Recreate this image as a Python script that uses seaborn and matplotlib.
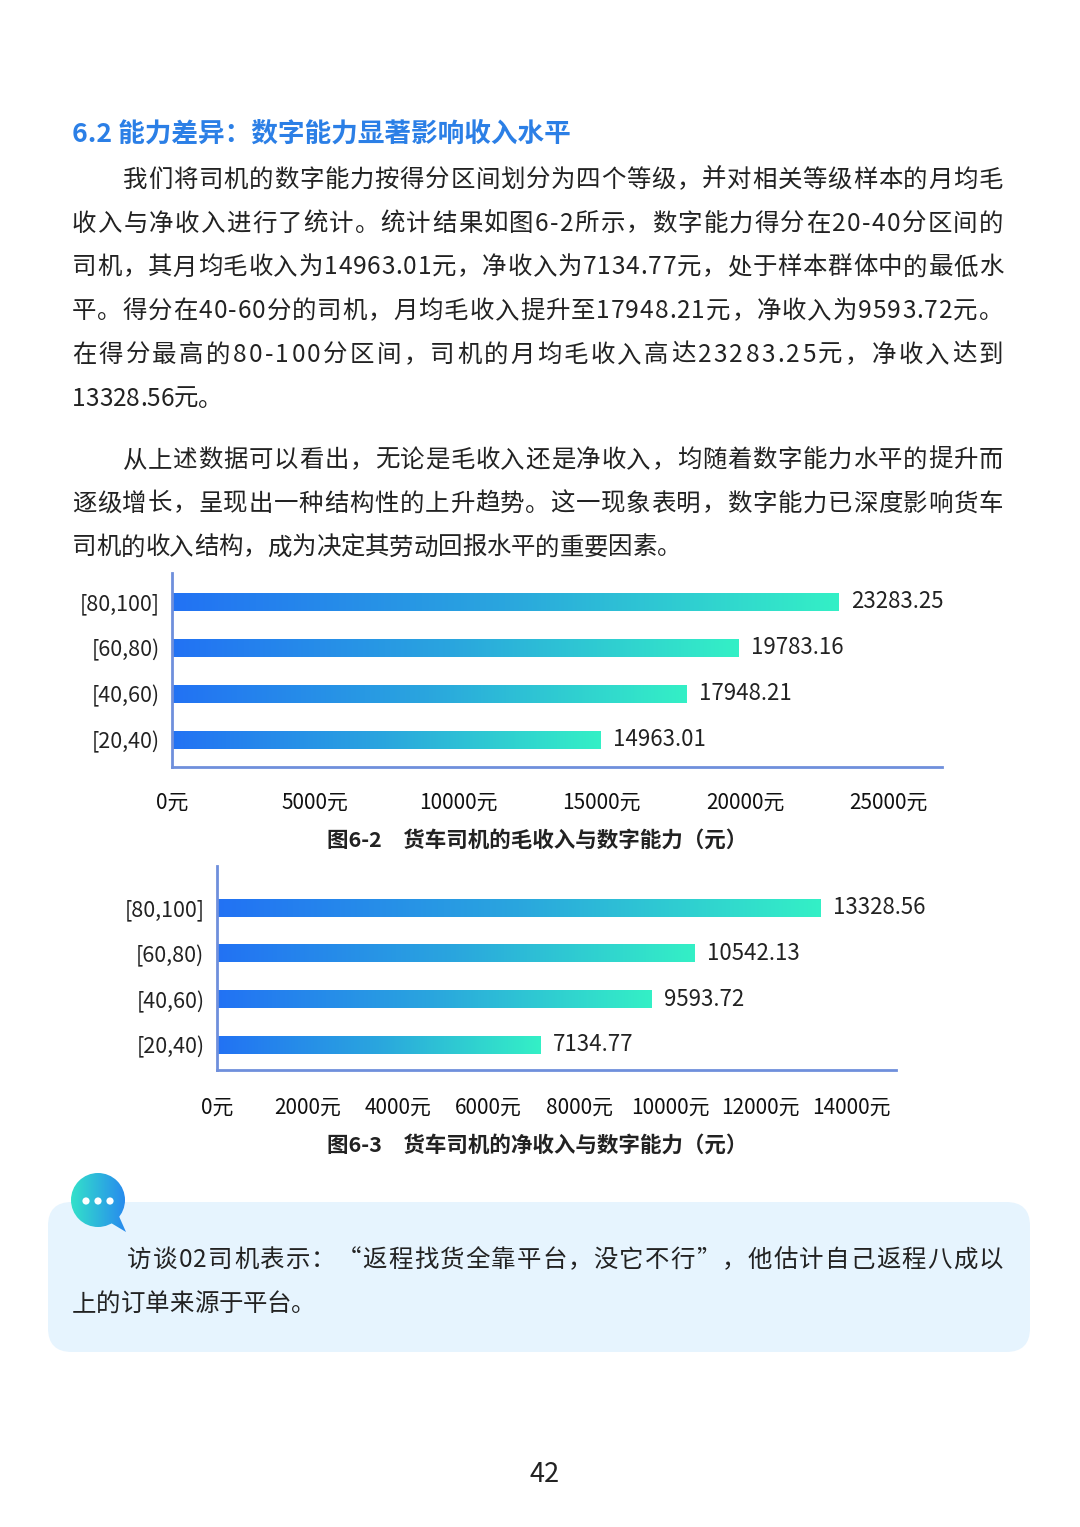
import matplotlib.pyplot as plt
import seaborn as sns
import numpy as np
import pandas as pd
from matplotlib.colors import LinearSegmentedColormap
from matplotlib.patches import FancyBboxPatch, Circle, Polygon

# ---- data ----
levels = ['[80,100]', '[60,80)', '[40,60)', '[20,40)']
gross_income = [23283.25, 19783.16, 17948.21, 14963.01]
net_income = [13328.56, 10542.13, 9593.72, 7134.77]
gross_ticks = [0, 5000, 10000, 15000, 20000, 25000]
gross_tick_labels = ['0元', '5000元', '10000元', '15000元', '20000元', '25000元']
net_ticks = [0, 2000, 4000, 6000, 8000, 10000, 12000, 14000]
net_tick_labels = ['0元', '2000元', '4000元', '6000元', '8000元', '10000元', '12000元', '14000元']

heading = '6.2 能力差异：数字能力显著影响收入水平'
para1 = [
    '我们将司机的数字能力按得分区间划分为四个等级，并对相关等级样本的月均毛',
    '收入与净收入进行了统计。统计结果如图6-2所示，数字能力得分在20-40分区间的',
    '司机，其月均毛收入为14963.01元，净收入为7134.77元，处于样本群体中的最低水',
    '平。得分在40-60分的司机，月均毛收入提升至17948.21元，净收入为9593.72元。',
    '在得分最高的80-100分区间，司机的月均毛收入高达23283.25元，净收入达到',
    '13328.56元。',
]
para2 = [
    '从上述数据可以看出，无论是毛收入还是净收入，均随着数字能力水平的提升而',
    '逐级增长，呈现出一种结构性的上升趋势。这一现象表明，数字能力已深度影响货车',
    '司机的收入结构，成为决定其劳动回报水平的重要因素。',
]
caption1 = '图6-2　货车司机的毛收入与数字能力（元）'
caption2 = '图6-3　货车司机的净收入与数字能力（元）'
quote = [
    '访谈02司机表示：“返程找货全靠平台，没它不行”，他估计自己返程八成以',
    '上的订单来源于平台。',
]
page_no = '42'

W, H = 1080, 1527
sns.set_theme(style='white')
plt.rcParams['font.family'] = ['Noto Sans CJK SC', 'DejaVu Sans']
fig = plt.figure(figsize=(W / 100, H / 100), dpi=100)
fig.patch.set_facecolor('white')

grad = LinearSegmentedColormap.from_list('bar', ['#2272f4', '#2aa6de', '#34f0c6'])
axis_col = '#6f8fdc'
text_col = '#222222'
narrow = ['Liberation Sans Narrow', 'Noto Sans CJK SC', 'DejaVu Sans']
body_size = 17.6


def fx(px):
    return px / W


def fy(py):
    return 1 - py / H


def box(l, t, r, b):
    return [fx(l), fy(b), fx(r) - fx(l), fy(t) - fy(b)]


def text_line(x0, yc, s, size=body_size, right=None, **kw):
    # one character per text so a full line can be justified to `right`
    r = fig.canvas.get_renderer()
    base = yc + size * 0.5
    chars = [fig.text(0, fy(base), ch, fontsize=size, va='baseline', ha='left',
                      color=text_col, **kw) for ch in s]
    widths = [t.get_window_extent(r).width for t in chars]
    gap = 0.0
    if right is not None and len(s) > 1:
        gap = (right - x0 - sum(widths)) / (len(s) - 1)
    x = x0
    for t, w in zip(chars, widths):
        t.set_x(fx(x))
        x += w + gap


def bar_chart(rect, values, ticks, tick_labels, xmax, ylim, pad_y):
    ax = fig.add_axes(rect)
    df = pd.DataFrame({'level': levels, 'value': values})
    sns.barplot(data=df, x='value', y='level', orient='h', ax=ax,
                width=0.38, color='#2a8ae8', saturation=1)
    g = np.linspace(0, 1, 256).reshape(1, -1)
    for p in ax.patches:
        x0, y0 = p.get_x(), p.get_y()
        w, h = p.get_width(), p.get_height()
        p.set_alpha(0)
        ax.imshow(g, cmap=grad, aspect='auto', extent=[x0, x0 + w, y0 + h, y0],
                  zorder=2, interpolation='bilinear')
    ax.bar_label(ax.containers[0], labels=[f'{v:.2f}' for v in values],
                 padding=9, fontsize=16, color=text_col)
    ax.set_xlim(0, xmax)
    ax.set_ylim(*ylim)
    ax.set_xticks(ticks)
    ax.set_xticklabels(tick_labels, family=narrow, fontsize=15, color='#111111')
    ax.tick_params(axis='x', length=0, pad=pad_y)
    ax.tick_params(axis='y', length=0, pad=9)
    for lab in ax.get_yticklabels():
        lab.set_fontsize(15.5)
        lab.set_color(text_col)
        lab.set_family(narrow)
    ax.set_xlabel('')
    ax.set_ylabel('')
    for s in ['top', 'right']:
        ax.spines[s].set_visible(False)
    for s in ['left', 'bottom']:
        ax.spines[s].set_color(axis_col)
        ax.spines[s].set_linewidth(2)
    ax.set_facecolor('none')
    return ax


bar_chart(box(172, 573, 942, 767), gross_income, gross_ticks, gross_tick_labels,
          26880, (3.59, -0.63), 18)
bar_chart(box(217, 866, 896, 1070), net_income, net_ticks, net_tick_labels,
          14990, (3.55, -0.92), 19.5)

# ---- page text ----
fig.text(fx(72), fy(134), heading, fontsize=19.2, fontweight='bold', color='#2b7fe6',
         va='center', ha='left')
line_h = 43.8
for i, line in enumerate(para1):
    x = 123 if i == 0 else 72
    right = 1003 if i < len(para1) - 1 else None
    text_line(x, 178 + i * line_h, line, right=right)
for i, line in enumerate(para2):
    x = 123 if i == 0 else 72
    right = 1003 if i < len(para2) - 1 else None
    text_line(x, 458 + i * line_h, line, right=right)

fig.text(fx(537), fy(840), caption1, fontsize=15.5, fontweight='bold',
         color=text_col, ha='center', va='center')
fig.text(fx(537), fy(1145), caption2, fontsize=15.5, fontweight='bold',
         color=text_col, ha='center', va='center')

# ---- quote box ----
bg = FancyBboxPatch((fx(48), fy(1352)), fx(1030) - fx(48), fy(1202) - fy(1352),
                    boxstyle='round,pad=0,rounding_size=0.022',
                    transform=fig.transFigure, facecolor='#e6f4fe',
                    edgecolor='none', mutation_aspect=W / H)
fig.patches.append(bg)
text_line(127, 1258, quote[0], right=1003)
text_line(72, 1302, quote[1])

# speech bubble icon
ic = fig.add_axes(box(68, 1170, 132, 1234))
ic.set_zorder(5)
ic.axis('off')
circ = Circle((30, 30), 27, transform=ic.transData, facecolor='none', edgecolor='none')
tail = Polygon([[38, 50], [58, 62], [50, 44]], closed=True, transform=ic.transData,
               facecolor='none', edgecolor='none')
ic.add_patch(circ)
ic.add_patch(tail)
icon_grad = LinearSegmentedColormap.from_list('icon', ['#34e6c8', '#2680f2'])
gi = np.linspace(0, 1, 128).reshape(1, -1)
im1 = ic.imshow(gi, cmap=icon_grad, extent=[0, 64, 64, 0], aspect='auto')
im1.set_clip_path(circ)
im2 = ic.imshow(gi, cmap=icon_grad, extent=[0, 64, 64, 0], aspect='auto')
im2.set_clip_path(tail)
for cx in [18, 30, 42]:
    ic.add_patch(Circle((cx, 31), 3.6, facecolor='white', edgecolor='none', zorder=3))
ic.set_xlim(0, 64)
ic.set_ylim(64, 0)

fig.text(fx(545), fy(1475), page_no, fontsize=19.5, color=text_col,
         ha='center', va='center')

fig.savefig('out.png', dpi=100, facecolor='white')
